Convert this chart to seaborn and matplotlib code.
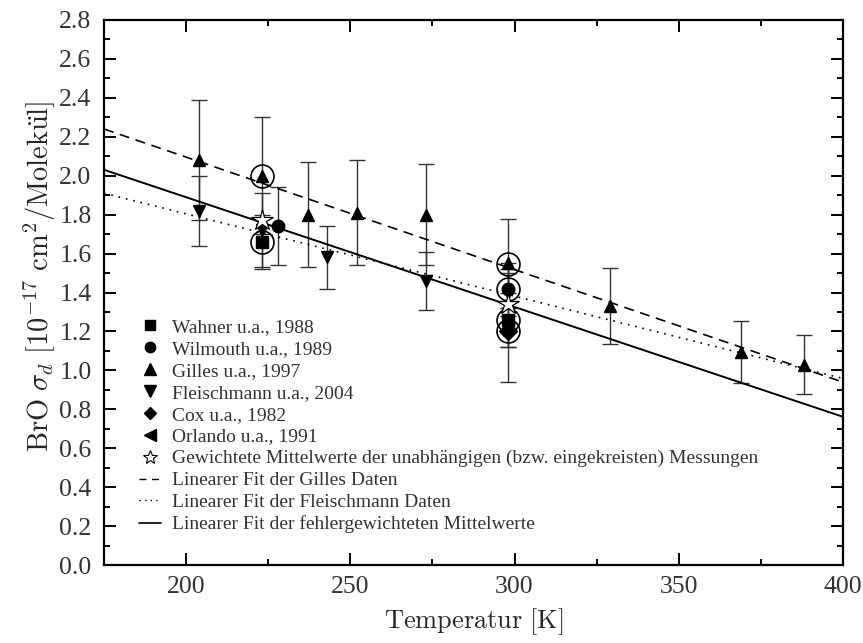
import numpy as np
import pandas as pd
import matplotlib
matplotlib.use("Agg")
import matplotlib.pyplot as plt
from matplotlib.lines import Line2D
from matplotlib.ticker import MultipleLocator, FormatStrFormatter
import seaborn as sns

# ---------------- data ----------------
wahner_T = [223, 298]
wahner_s = [1.66, 1.26]
wahner_e = [0.14, 0.14]

wilmouth_T = [228, 298]
wilmouth_s = [1.74, 1.42]
wilmouth_e = [0.20, 0.10]

gilles_T = [204, 223, 237, 252, 273, 298, 329, 369, 388]
gilles_s = [2.08, 2.00, 1.80, 1.81, 1.80, 1.55, 1.33, 1.095, 1.03]
gilles_e = [0.31, 0.30, 0.27, 0.27, 0.26, 0.23, 0.195, 0.16, 0.15]

fleisch_T = [204, 223, 243, 273, 298]
fleisch_s = [1.82, 1.72, 1.58, 1.46, 1.40]
fleisch_e = [0.18, 0.19, 0.16, 0.15, 0.15]

cox_T = [298]
cox_s = [1.20]
cox_e = [0.08]

orlando_T = [298]
orlando_s = [1.22]
orlando_e = [0.28]

mean_T = [223, 298]
mean_s = [1.77, 1.34]

circled_T = [223, 223, 298, 298, 298, 298]
circled_s = [2.00, 1.66, 1.545, 1.42, 1.26, 1.20]

# linear fits: (intercept at T=0, slope)
fit_gilles = (3.2515, -0.00578)
fit_fleisch = (2.65025, -0.00423)
fit_mean = (3.0175, -0.00564)

# ---------------- style ----------------
sns.set_theme(style="ticks")
plt.rcParams["font.family"] = ["Liberation Serif", "DejaVu Serif"]
plt.rcParams["mathtext.fontset"] = "cm"

fig = plt.figure(figsize=(8.63, 6.43), dpi=100)
ax = fig.add_axes([0.1205, 0.1213, 0.8563, 0.8476])

ecol = "#333333"
ms = 9

def series(T, s, e, marker):
    ax.errorbar(T, s, yerr=e, fmt="none", ecolor=ecol, elinewidth=1.0,
                capsize=5.5, capthick=1.0, zorder=2)
    ax.plot(T, s, linestyle="none", marker=marker, color="black",
            markersize=ms, zorder=4)

series(gilles_T, gilles_s, gilles_e, "^")
series(fleisch_T, fleisch_s, fleisch_e, "v")
series(wilmouth_T, wilmouth_s, wilmouth_e, "o")
series(wahner_T, wahner_s, wahner_e, "s")
series(orlando_T, orlando_s, orlando_e, "<")
series(cox_T, cox_s, cox_e, "D")

# circled measurements
ax.plot(circled_T, circled_s, linestyle="none", marker="o", markersize=16.5,
        markerfacecolor="none", markeredgecolor="black", markeredgewidth=1.2,
        zorder=5)

# weighted means (open stars)
ax.plot(mean_T, mean_s, linestyle="none", marker="*", markersize=16,
        markerfacecolor="white", markeredgecolor="black", markeredgewidth=0.9,
        zorder=6)

# fit lines
xx = np.linspace(175, 400, 200)
fits = pd.DataFrame({
    "T": np.concatenate([xx, xx, xx]),
    "s": np.concatenate([fit_gilles[0] + fit_gilles[1] * xx,
                         fit_fleisch[0] + fit_fleisch[1] * xx,
                         fit_mean[0] + fit_mean[1] * xx]),
    "fit": ["g"] * len(xx) + ["f"] * len(xx) + ["m"] * len(xx),
})
sns.lineplot(data=fits[fits.fit == "g"], x="T", y="s", ax=ax, color="black",
             linewidth=1.2, linestyle=(0, (6, 4)), zorder=3)
sns.lineplot(data=fits[fits.fit == "f"], x="T", y="s", ax=ax, color="black",
             linewidth=1.2, linestyle=(0, (1, 3.5)), zorder=3)
sns.lineplot(data=fits[fits.fit == "m"], x="T", y="s", ax=ax, color="black",
             linewidth=1.4, linestyle="-", zorder=3)

# axes
ax.set_xlim(175, 400)
ax.set_ylim(0.0, 2.8)
ax.xaxis.set_major_locator(MultipleLocator(50))
ax.xaxis.set_minor_locator(MultipleLocator(25))
ax.yaxis.set_major_locator(MultipleLocator(0.2))
ax.yaxis.set_minor_locator(MultipleLocator(0.1))
ax.yaxis.set_major_formatter(FormatStrFormatter("%.1f"))
for sp in ax.spines.values():
    sp.set_visible(True)
    sp.set_linewidth(1.6)
    sp.set_color("black")
ax.tick_params(which="both", direction="in", top=True, right=True,
               colors="black", labelcolor="#333333", labelsize=18.5, width=1.4)
ax.tick_params(which="major", length=8.5)
ax.tick_params(axis="y", which="major", pad=9)
ax.tick_params(axis="x", which="major", pad=8)
ax.tick_params(which="minor", length=4.5)

ax.set_xlabel(r"$\mathrm{Temperatur\ [K]}$", fontsize=19, labelpad=6)
ax.set_ylabel(r"$\mathrm{BrO}\ \sigma_d\ [10^{-17}\ \mathrm{cm}^2/\mathrm{Molek\ddot{u}l}]$",
              fontsize=20.5)
ax.yaxis.set_label_coords(-0.062, 0.53)

# legend
handles = [
    Line2D([], [], ls="none", marker="s", color="black", ms=7),
    Line2D([], [], ls="none", marker="o", color="black", ms=7.5),
    Line2D([], [], ls="none", marker="^", color="black", ms=8),
    Line2D([], [], ls="none", marker="v", color="black", ms=8),
    Line2D([], [], ls="none", marker="D", color="black", ms=6.5),
    Line2D([], [], ls="none", marker="<", color="black", ms=8),
    Line2D([], [], ls="none", marker="*", mfc="white", mec="black", ms=10, mew=0.8),
    Line2D([], [], color="black", lw=1.0, ls=(0, (5, 4))),
    Line2D([], [], color="black", lw=1.0, ls=(0, (1, 3))),
    Line2D([], [], color="black", lw=1.2, ls="-"),
]
labels = [
    "Wahner u.a., 1988",
    "Wilmouth u.a., 1989",
    "Gilles u.a., 1997",
    "Fleischmann u.a., 2004",
    "Cox u.a., 1982",
    "Orlando u.a., 1991",
    "Gewichtete Mittelwerte der unabhängigen (bzw. eingekreisten) Messungen",
    "Linearer Fit der Gilles Daten",
    "Linearer Fit der Fleischmann Daten",
    "Linearer Fit der fehlergewichteten Mittelwerte",
]
leg = ax.legend(handles, labels, loc="lower left", bbox_to_anchor=(0.047, 0.058),
                frameon=False, fontsize=14, handlelength=1.15, handletextpad=0.55,
                labelspacing=0.22, borderaxespad=0, borderpad=0)
for t in leg.get_texts():
    t.set_color("#333333")

fig.savefig("out.png", dpi=100)
